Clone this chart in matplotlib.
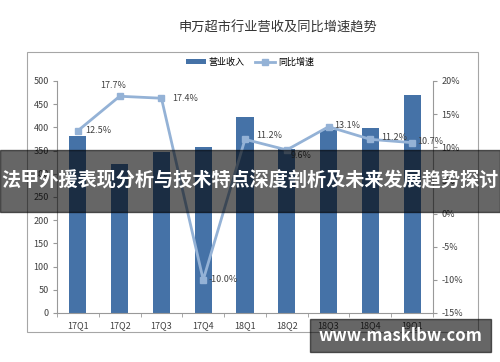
import matplotlib.pyplot as plt
from matplotlib.patches import Rectangle
from matplotlib.ticker import FuncFormatter

plt.rcParams['font.family'] = ['Noto Sans CJK SC', 'DejaVu Sans']

quarters = ['17Q1', '17Q2', '17Q3', '17Q4', '18Q1', '18Q2', '18Q3', '18Q4', '19Q1']
revenue = [381, 321, 347, 358, 422, 354, 395, 399, 470]
growth = [12.5, 17.7, 17.4, -10.0, 11.2, 9.6, 13.1, 11.2, 10.7]
# label offsets in points (dx, dy)
label_off = [(5, 0), (-5, 8), (8, 0), (4, 0), (8, 3), (3, -4), (4, 1), (8, 1), (4, 1)]

bar_c = '#4572A7'
line_c = '#94B2D6'
txt_c = '#404040'

fig = plt.figure(figsize=(5, 3.62), dpi=100)
fig.patches.append(Rectangle((27/500, 1-332/362), 451/500, 280/362, transform=fig.transFigure,
                             fill=False, edgecolor='#a6a6a6', lw=0.8))
fig.text(278/500, 1-28/362, '申万超市行业营收及同比增速趋势', ha='center', va='center', fontsize=9.5, color='#333333')

ax = fig.add_axes([57/500, 1-313/362, 376/500, 232/362])
x = range(len(quarters))
b = ax.bar(x, revenue, width=0.41, color=bar_c, label='营业收入', zorder=2)
ax.set_ylim(0, 500)
ax.set_yticks(range(0, 501, 50))
ax.set_xlim(-0.5, len(quarters) - 0.5)
ax.set_xticks(x)
ax.set_xticklabels(quarters)
ax.set_xticks([i + 0.5 for i in range(-1, len(quarters))], minor=True)
ax.tick_params(axis='x', which='major', length=0, pad=6)
ax.tick_params(axis='x', which='minor', length=3, color='#999999')
ax.tick_params(axis='y', length=3, color='#999999', pad=3)
ax.tick_params(labelsize=6.5, labelcolor=txt_c)
for s in ['top', 'right']:
    ax.spines[s].set_visible(False)
for s in ['left', 'bottom']:
    ax.spines[s].set_color('#999999')

ax2 = ax.twinx()
l, = ax2.plot(x, growth, color=line_c, lw=2, marker='s', markersize=5, label='同比增速', zorder=3)
ax2.set_ylim(-15, 20)
ax2.set_yticks(range(-15, 21, 5))
ax2.yaxis.set_major_formatter(FuncFormatter(lambda v, p: f'{v:.0f}%'))
ax2.tick_params(axis='y', length=3, color='#999999', labelsize=6.5, labelcolor=txt_c, pad=3)
for s in ['top', 'left', 'bottom']:
    ax2.spines[s].set_visible(False)
ax2.spines['right'].set_color('#999999')
for i, (v, off) in enumerate(zip(growth, label_off)):
    ha = 'center' if off[1] > 6 else 'left'
    ax2.annotate(f'{v:.1f}%', (i, v), xytext=off, textcoords='offset points',
                 ha=ha, va='center', fontsize=6.5, color=txt_c)

fig.legend([b, l], ['营业收入', '同比增速'], loc='center', bbox_to_anchor=(250/500, 1-62/362),
           ncol=2, frameon=False, fontsize=6.5, handlelength=2.2, handleheight=0.5,
           columnspacing=1.2, handletextpad=0.3)

# overlay banner and watermark
fig.patches.append(Rectangle((0, 1-212/362), 1, 62/362, transform=fig.transFigure,
                             color='black', alpha=0.6, zorder=10))
fig.text(0.5, 1-181/362, '法甲外援表现分析与技术特点深度剖析及未来发展趋势探讨', ha='center', va='center',
         fontsize=13.8, fontweight='bold', color='white', zorder=11)
fig.patches.append(Rectangle((310/500, 1-352/362), 181/500, 33/362, transform=fig.transFigure,
                             color='black', alpha=0.6, zorder=10))
fig.text(400/500, 1-336/362, 'www.masklbw.com', ha='center', va='center',
         fontsize=12, fontweight='bold', color='white', zorder=11)

fig.savefig('out.png', dpi=100)
